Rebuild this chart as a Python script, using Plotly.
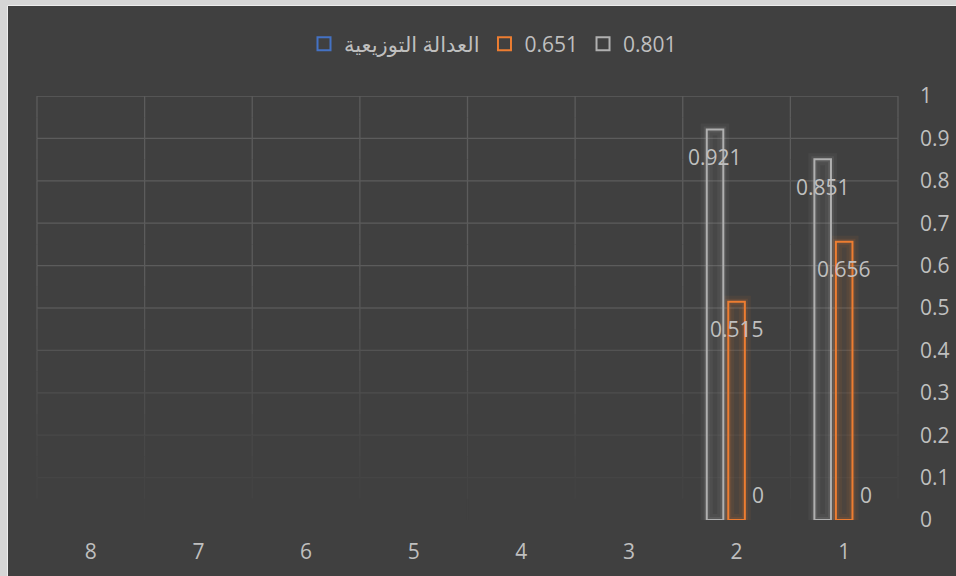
import plotly.graph_objects as go

# ---------------- data ----------------
categories = ["1", "2", "3", "4", "5", "6", "7", "8"]
series_names = ["العدالة التوزيعية", "0.651", "0.801"]
values_blue = [0, 0, None, None, None, None, None, None]
values_orange = [0.656, 0.515, None, None, None, None, None, None]
values_gray = [0.851, 0.921, None, None, None, None, None, None]
y_ticks = [0, 0.1, 0.2, 0.3, 0.4, 0.5, 0.6, 0.7, 0.8, 0.9, 1]

series_values = [values_blue, values_orange, values_gray]
series_colors = ["#4472c4", "#ed7d31", "#b0b0b0"]
series_rgb = [(68, 114, 196), (237, 125, 49), (176, 176, 176)]

# ---------------- layout params ----------------
W, H = 956, 576
ML, MR, MT, MB = 37, 58, 96, 56
PW, PH = W - ML - MR, H - MT - MB
BARGAP = 0.40
BARGROUPGAP = 0.23
TEXT = "#bfbfbf"
FONT = "Open Sans, DejaVu Sans, sans-serif"
FS = 21
BG = (64, 64, 64)
GRID = (92, 92, 92)


def xp(px):
    return (px - ML) / PW


def yp(py):
    return (H - MB - py) / PH


def blend(a):
    c = [round(BG[i] + (GRID[i] - BG[i]) * a) for i in range(3)]
    return "rgb(%d,%d,%d)" % tuple(c)


def fade(v):
    return max(0.0, min(1.0, v / 0.6))


fig = go.Figure()

# glow layers (x, x2) and main bars (x3)
for axis, width, alpha in (("x", 12, 0.07), ("x2", 6, 0.12)):
    for i, (name, vals) in enumerate(zip(series_names, series_values)):
        r, g, b = series_rgb[i]
        lw_glow = 0 if all((v or 0) == 0 for v in vals) else width
        fig.add_trace(go.Bar(
            x=categories, y=vals, name=name, xaxis=axis, yaxis="y",
            marker=dict(color="rgba(0,0,0,0)",
                        line=dict(color="rgba(%d,%d,%d,%.2f)" % (r, g, b, alpha), width=lw_glow)),
            showlegend=False, hoverinfo="skip",
        ))
for i, (name, vals) in enumerate(zip(series_names, series_values)):
    r, g, b = series_rgb[i]
    lw = 0 if all((v or 0) == 0 for v in vals) else 2
    fig.add_trace(go.Bar(
        x=categories, y=vals, name=name, xaxis="x3", yaxis="y",
        marker=dict(color="rgba(%d,%d,%d,0.07)" % (r, g, b),
                    line=dict(color=series_colors[i], width=lw)),
        showlegend=False,
    ))

# legend entries (dummy markers on a hidden axis)
for i, name in enumerate(series_names):
    fig.add_trace(go.Scatter(
        x=[0], y=[-10], mode="markers", name=name, xaxis="x4", yaxis="y2",
        marker=dict(symbol="square-open", size=13, color=series_colors[i],
                    line=dict(width=2, color=series_colors[i])),
        hoverinfo="skip", cliponaxis=True,
    ))

# data labels
n = len(series_names)
gw = 1 - BARGAP
slot = gw / n
annotations = []
for i, vals in enumerate(series_values):
    off = -gw / 2 + slot * (i + 0.5)
    for j, v in enumerate(vals):
        if v is None:
            continue
        annotations.append(dict(
            x=j + off, y=v, xref="x3", yref="y", text=str(v),
            showarrow=False, yanchor="middle", xanchor="center",
            yshift=-27.5 if v > 0 else 25,
            font=dict(family=FONT, size=FS, color=TEXT),
        ))

# background frame and fading gridlines
shapes = [dict(type="rect", xref="paper", yref="paper",
               x0=xp(7.5), x1=xp(962), y0=yp(582), y1=yp(5.5),
               fillcolor="#404040", line=dict(color="#ededed", width=1),
               layer="below")]
for t in y_ticks:
    if t == 0:
        continue
    shapes.append(dict(type="line", xref="paper", yref="y", x0=0, x1=1, y0=t, y1=t,
                       line=dict(color=blend(fade(t)), width=1.3), layer="below"))
nseg = 20
for k in range(len(categories) + 1):
    for s in range(nseg):
        y0 = s / nseg
        y1 = (s + 1) / nseg
        a = fade((y0 + y1) / 2)
        if a <= 0.01:
            continue
        shapes.append(dict(type="line", xref="paper", yref="y",
                           x0=k / len(categories), x1=k / len(categories), y0=y0, y1=y1,
                           line=dict(color=blend(a), width=1.3), layer="below"))

xcommon = dict(type="category", categoryorder="array", categoryarray=categories,
               range=[len(categories) - 0.5, -0.5])

fig.update_layout(
    width=W, height=H,
    margin=dict(l=ML, r=MR, t=MT, b=MB, pad=0, autoexpand=False),
    paper_bgcolor="#d6d6d6",
    plot_bgcolor="rgba(0,0,0,0)",
    barmode="group", bargap=BARGAP, bargroupgap=BARGROUPGAP,
    font=dict(family=FONT, size=FS, color=TEXT),
    xaxis=dict(**xcommon, showgrid=False, zeroline=False, showline=False,
               ticks="", ticklabelstandoff=17, automargin=False,
               tickfont=dict(family=FONT, size=FS, color=TEXT)),
    xaxis2=dict(**xcommon, overlaying="x", visible=False),
    xaxis3=dict(**xcommon, overlaying="x", visible=False),
    xaxis4=dict(range=[0, 1], overlaying="x", visible=False),
    yaxis=dict(range=[0, 1], tickvals=y_ticks, side="right", showgrid=False,
               zeroline=False, showline=False, ticks="", ticklabelstandoff=21,
               automargin=False,
               tickfont=dict(family=FONT, size=FS, color=TEXT)),
    yaxis2=dict(range=[0, 1], overlaying="y", visible=False),
    legend=dict(orientation="h", x=xp(493), xanchor="center", y=yp(44), yanchor="middle",
                font=dict(family=FONT, size=FS, color=TEXT), bgcolor="rgba(0,0,0,0)",
                itemwidth=30, tracegroupgap=0),
    annotations=annotations,
    shapes=shapes,
    showlegend=True,
)

fig.write_html("out.html")
